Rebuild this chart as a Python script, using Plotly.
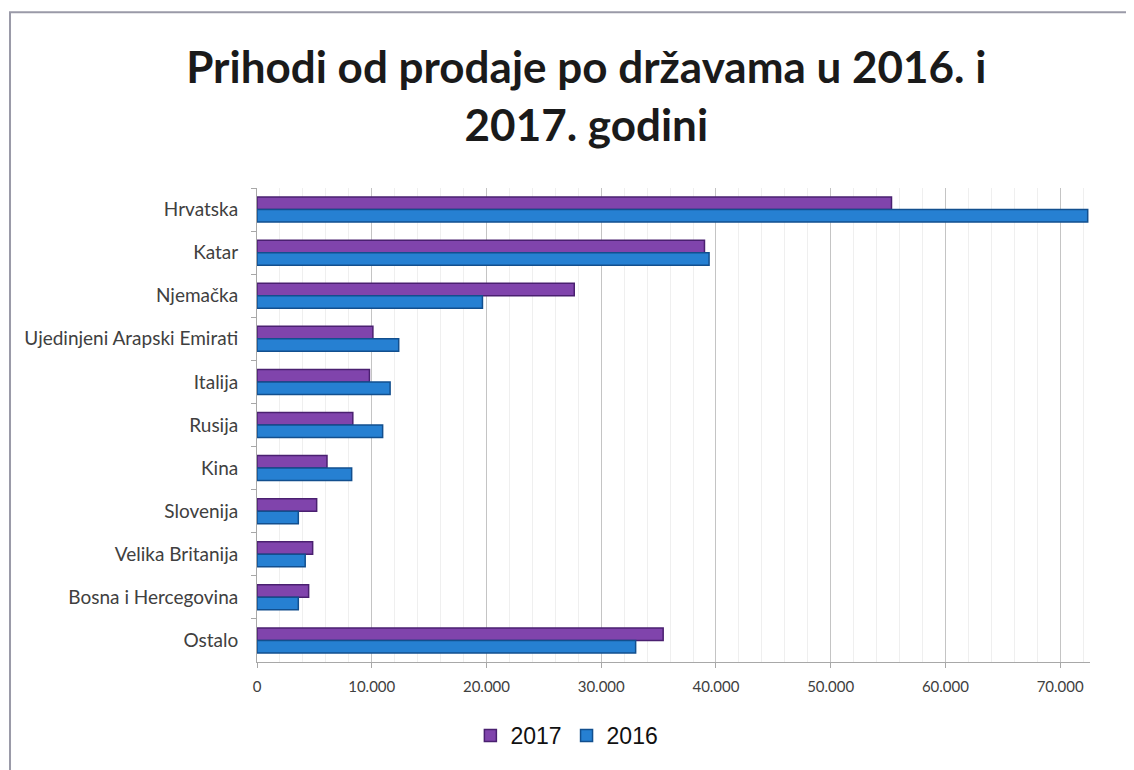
import plotly.graph_objects as go

# Revenue by country
countries = [
    "Hrvatska", "Katar", "Njemačka", "Ujedinjeni Arapski Emirati", "Italija",
    "Rusija", "Kina", "Slovenija", "Velika Britanija", "Bosna i Hercegovina", "Ostalo",
]
rev_2017 = [55300, 39000, 27650, 10100, 9800, 8350, 6100, 5200, 4850, 4500, 35400]
rev_2016 = [72400, 39400, 19650, 12350, 11600, 10950, 8250, 3600, 4200, 3600, 33000]
x_ticks = [0, 10000, 20000, 30000, 40000, 50000, 60000, 70000]

PURPLE = "#8044ac"
PURPLE_EDGE = "#4a2070"
BLUE = "#2680d2"
BLUE_EDGE = "#124f8e"

fig = go.Figure()
fig.add_trace(go.Bar(
    y=countries, x=rev_2017, name="2017", orientation="h",
    marker=dict(color=PURPLE, line=dict(color=PURPLE_EDGE, width=1.5)),
))
fig.add_trace(go.Bar(
    y=countries, x=rev_2016, name="2016", orientation="h",
    marker=dict(color=BLUE, line=dict(color=BLUE_EDGE, width=1.5)),
))

# page body adds an 8px offset, margins below compensate for it
fig.update_layout(
    width=1134, height=770,
    paper_bgcolor="white", plot_bgcolor="white",
    barmode="group", bargap=0.42, bargroupgap=0.0,
    separators=",.",
    margin=dict(l=249, r=52, t=180, b=116),
    font=dict(family="Lato, Open Sans, sans-serif", color="#404040"),
    title=dict(
        text="Prihodi od prodaje po državama u 2016. i<br>2017. godini",
        font=dict(family="Lato, Open Sans, sans-serif", size=44, color="#1a1a1a",
                  weight="bold"),
        x=0.51, xanchor="center", xref="container",
        y=0.902, yanchor="top", yref="container",
    ),
    legend=dict(
        orientation="h", x=0.372, xanchor="center", y=-0.155, yanchor="middle",
        font=dict(family="Liberation Sans, Arial, sans-serif", size=23, color="#111"),
        itemwidth=30, tracegroupgap=0,
    ),
    # light frame around the chart
    shapes=[dict(
        type="rect", xref="paper", yref="paper",
        x0=-0.2965, x1=1.2, y0=-0.3, y1=1.371,
        line=dict(color="#9a9aa8", width=2), fillcolor="rgba(0,0,0,0)",
        layer="below",
    )],
)

fig.update_xaxes(
    range=[0, 72600], tickvals=x_ticks, tickformat=",d",
    showgrid=True, gridcolor="#c4c4c4", gridwidth=1,
    minor=dict(dtick=2000, showgrid=True, gridcolor="#efefef", gridwidth=1),
    showline=True, linecolor="#a8a8a8", linewidth=1,
    ticks="outside", ticklen=5, tickcolor="#a8a8a8",
    ticklabelstandoff=6,
    tickfont=dict(size=15, color="#404040"),
    zeroline=False, automargin=False,
)
fig.update_yaxes(
    autorange="reversed", automargin=False,
    showline=True, linecolor="#a8a8a8", linewidth=1,
    ticks="outside", ticklen=5, tickcolor="#a8a8a8", tickson="boundaries",
    ticklabelstandoff=14,
    tickfont=dict(size=19, color="#404040"),
    showgrid=False,
)

fig.write_html("out.html")
